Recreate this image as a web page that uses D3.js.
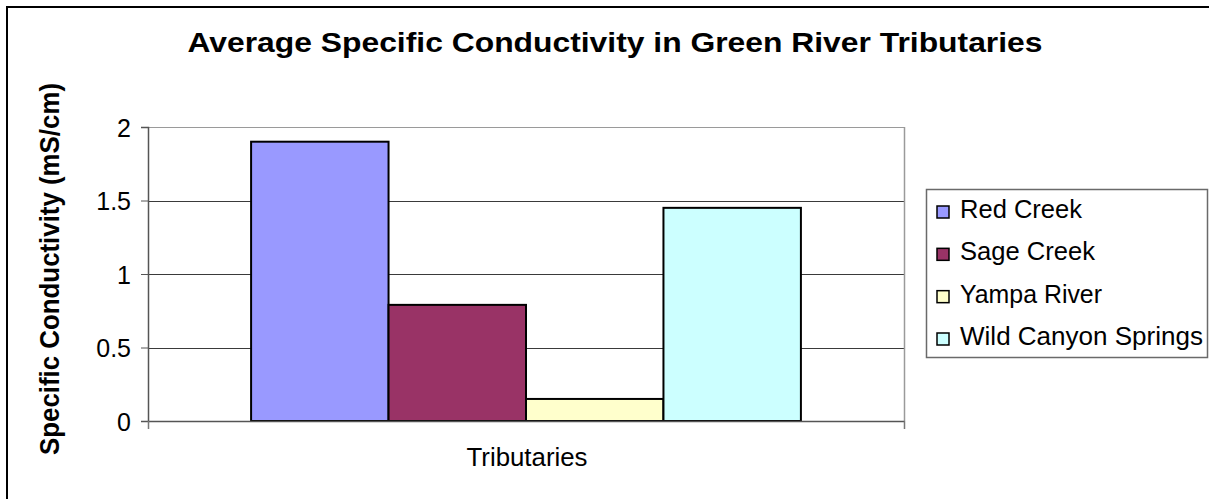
<!DOCTYPE html>
<html>
<head>
<meta charset="utf-8">
<script src="https://cdn.jsdelivr.net/npm/d3@7"></script>
<style>
  html, body { margin: 0; padding: 0; background: #fff; }
  svg { display: block; font-family: "Liberation Sans", Arial, sans-serif; }
</style>
</head>
<body>
<svg id="chart" width="1209" height="499"></svg>
<script>
// ---- data ----
const categories = ["Tributaries"];
const seriesNames = ["Red Creek", "Sage Creek", "Yampa River", "Wild Canyon Springs"];
const seriesValues = [1.9, 0.79, 0.15, 1.45];
const seriesColors = ["#9999FF", "#993366", "#FFFFCC", "#CCFFFF"];
const yTicks = [0, 0.5, 1, 1.5, 2];
const yTickLabels = ["0", "0.5", "1", "1.5", "2"];
const titleText = "Average Specific Conductivity in Green River Tributaries";
const yLabelText = "Specific Conductivity (mS/cm)";
const xLabelText = categories[0];

// ---- layout ----
const svg = d3.select("#chart");
const plot = { left: 148, right: 904, top: 127, bottom: 421 };

// outer frame
svg.append("rect").attr("x", 7).attr("y", 7).attr("width", 1220).attr("height", 520)
  .attr("fill", "#fff").attr("stroke", "#000").attr("stroke-width", 2);

const x = d3.scaleBand().domain(seriesNames)
  .range([plot.left, plot.right]).paddingInner(0).paddingOuter(0.75);
const y = d3.scaleLinear().domain([0, 2]).range([plot.bottom, plot.top]);

// gridlines
svg.append("g").selectAll("line").data(yTicks.filter(d => d > 0)).join("line")
  .attr("x1", plot.left).attr("x2", plot.right)
  .attr("y1", d => Math.round(y(d)) + 0.5).attr("y2", d => Math.round(y(d)) + 0.5)
  .attr("stroke", d => d === 2 ? "#9a9a9a" : "#3a3a3a").attr("stroke-width", 1);

// right border of plot
svg.append("line").attr("x1", plot.right + 0.5).attr("x2", plot.right + 0.5)
  .attr("y1", plot.top).attr("y2", plot.bottom)
  .attr("stroke", "#9a9a9a").attr("stroke-width", 1.5);

// bars
svg.append("g").selectAll("rect").data(seriesValues).join("rect")
  .attr("x", (d, i) => x(seriesNames[i]))
  .attr("y", d => y(d))
  .attr("width", x.bandwidth())
  .attr("height", d => y(0) - y(d))
  .attr("fill", (d, i) => seriesColors[i])
  .attr("stroke", "#000").attr("stroke-width", 2);

// y axis
const yAxis = d3.axisLeft(y).tickValues(yTicks)
  .tickFormat((d, i) => yTickLabels[i]).tickSize(7).tickPadding(10);
const gy = svg.append("g").attr("transform", `translate(${plot.left},0)`).call(yAxis);
gy.attr("font-size", null).attr("font-family", null);
gy.select(".domain").attr("stroke", "#555").attr("stroke-width", 1.5);
gy.selectAll(".tick line").attr("stroke", "#555");
gy.selectAll(".tick text").style("font-size", "25px").attr("fill", "#000")
  .attr("dy", "0.36em");

// x axis line with end ticks
const xs = d3.scaleLinear().domain([0, 1]).range([plot.left, plot.right]);
const xAxis = d3.axisBottom(xs).tickValues([0, 1]).tickFormat("").tickSize(8).tickSizeOuter(0);
const gx = svg.append("g").attr("transform", `translate(0,${plot.bottom})`).call(xAxis);
gx.select(".domain").attr("stroke", "#555").attr("stroke-width", 1.5);
gx.selectAll(".tick line").attr("stroke", "#777").attr("stroke-width", 1.5);

// title
svg.append("text").attr("x", 615).attr("y", 52).attr("text-anchor", "middle")
  .style("font-size", "28px").attr("font-weight", "bold")
  .attr("textLength", 855).attr("lengthAdjust", "spacingAndGlyphs")
  .text(titleText);

// y label
svg.append("text")
  .attr("transform", "translate(59,269) rotate(-90)")
  .attr("text-anchor", "middle")
  .style("font-size", "27px").attr("font-weight", "bold")
  .attr("textLength", 372).attr("lengthAdjust", "spacingAndGlyphs")
  .text(yLabelText);

// x label
svg.append("text").attr("x", 527).attr("y", 466).attr("text-anchor", "middle")
  .style("font-size", "25px")
  .attr("textLength", 121).attr("lengthAdjust", "spacingAndGlyphs")
  .text(xLabelText);

// legend
const legend = { x: 926, y: 189, w: 281, h: 168 };
svg.append("rect").attr("x", legend.x + 0.5).attr("y", legend.y + 0.5)
  .attr("width", legend.w).attr("height", legend.h)
  .attr("fill", "#fff").attr("stroke", "#6a6a6a").attr("stroke-width", 1.5);
const legendWidths = [122, 135, 142, 243];
const ly = d3.scalePoint().domain(seriesNames).range([218, 345]);
const lg = svg.append("g").selectAll("g").data(seriesNames).join("g")
  .attr("transform", d => `translate(0,${ly(d)})`);
lg.append("rect").attr("x", 937).attr("y", -12).attr("width", 12).attr("height", 12)
  .attr("fill", (d, i) => seriesColors[i]).attr("stroke", "#000").attr("stroke-width", 1.5);
lg.append("text").attr("x", 960).attr("y", 0)
  .style("font-size", "25px")
  .attr("textLength", (d, i) => legendWidths[i]).attr("lengthAdjust", "spacingAndGlyphs")
  .text(d => d);
</script>
</body>
</html>
